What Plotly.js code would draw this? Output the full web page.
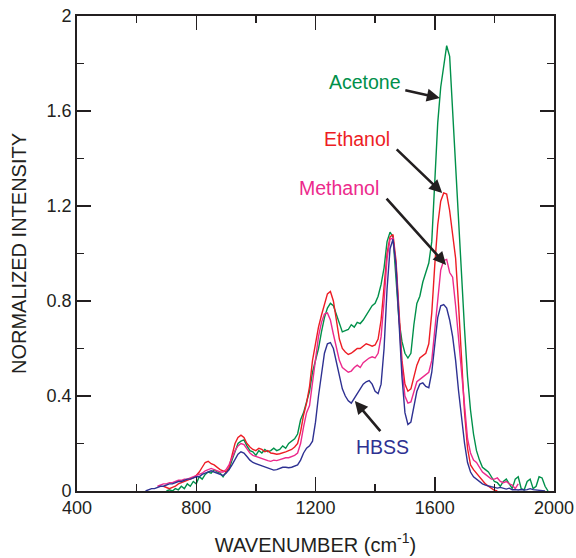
<!DOCTYPE html>
<html>
<head>
<meta charset="utf-8">
<script src="https://cdn.plot.ly/plotly-3.0.1.min.js"></script>
<style>html,body{margin:0;padding:0;background:#fff;}#chart{width:576px;height:558px;}</style>
</head>
<body>
<div id="chart"></div>
<script>
// Wavenumber grid (cm^-1)
const wavenumber = [];
for (let w = 620; w <= 1990; w += 10) wavenumber.push(w);

// HBSS (blue)
const hbss = [null,0.00,0.005,0.01,0.01,0.015,0.02,0.02,0.025,0.03,
0.03,0.035,0.04,0.04,0.045,0.05,0.05,0.055,0.06,0.06,
0.07,0.075,0.08,0.085,0.08,0.075,0.07,0.065,0.075,0.09,
0.11,0.135,0.155,0.165,0.16,0.145,0.13,0.12,0.115,0.11,
0.105,0.10,0.095,0.09,0.088,0.09,0.095,0.10,0.10,0.098,
0.10,0.105,0.11,0.13,0.16,0.18,0.19,0.21,0.29,0.40,
0.50,0.58,0.62,0.625,0.60,0.54,0.48,0.43,0.40,0.38,
0.37,0.39,0.41,0.43,0.45,0.46,0.465,0.45,0.42,0.41,
0.45,0.60,0.85,1.02,1.06,0.95,0.70,0.48,0.33,0.28,
0.29,0.35,0.42,0.45,0.455,0.44,0.435,0.50,0.62,0.73,
0.78,0.785,0.77,0.72,0.65,0.55,0.42,0.30,0.20,0.12,
0.08,0.06,0.05,0.04,0.03,0.025,0.02,0.018,0.015,0.012,
0.015,0.01,0.008,0.012,0.005,0.006,0.004,0.006,0.004,0.006,
0.01,0.006,0.004,0.004,0.003,0.0,null,null];

// Methanol (magenta)
const methanol = [null,null,null,null,null,0.02,0.025,0.03,0.03,0.035,
0.035,0.04,0.045,0.045,0.05,0.05,0.055,0.06,0.065,0.07,
0.075,0.085,0.09,0.095,0.09,0.085,0.08,0.08,0.09,0.11,
0.14,0.17,0.19,0.20,0.195,0.175,0.16,0.15,0.145,0.14,
0.135,0.13,0.128,0.125,0.13,0.128,0.132,0.135,0.14,0.14,
0.145,0.15,0.16,0.20,0.27,0.33,0.36,0.45,0.56,0.65,
0.71,0.745,0.75,0.72,0.66,0.60,0.55,0.52,0.51,0.50,
0.505,0.52,0.53,0.52,0.54,0.55,0.56,0.565,0.56,0.58,
0.65,0.80,0.98,1.06,1.065,0.95,0.72,0.52,0.40,0.37,
0.375,0.42,0.46,0.47,0.48,0.49,0.50,0.55,0.68,0.82,
0.93,0.97,0.975,0.92,0.90,0.78,0.64,0.48,0.33,0.22,
0.16,0.13,0.12,0.10,0.08,0.07,0.06,0.05,0.05,0.055,
0.04,0.035,0.04,0.03,0.025,0.01,0.03,null,null,null,
null,null,null,null,null,null,null,null];

// Ethanol (red)
const ethanol = [null,null,null,null,null,null,null,0.02,0.015,0.01,
0.015,0.02,0.03,0.035,0.04,0.045,0.05,0.055,0.065,0.08,
0.10,0.12,0.125,0.115,0.11,0.10,0.09,0.085,0.08,0.10,
0.15,0.20,0.225,0.235,0.225,0.20,0.185,0.175,0.17,0.18,
0.175,0.165,0.17,0.16,0.158,0.155,0.157,0.16,0.165,0.17,
0.175,0.185,0.20,0.25,0.32,0.37,0.44,0.55,0.63,0.69,
0.74,0.79,0.83,0.84,0.80,0.72,0.64,0.60,0.585,0.575,
0.58,0.59,0.60,0.60,0.61,0.62,0.615,0.61,0.615,0.64,
0.72,0.88,1.00,1.07,1.08,0.97,0.74,0.55,0.45,0.42,
0.43,0.48,0.53,0.56,0.57,0.58,0.62,0.75,0.95,1.12,
1.22,1.255,1.25,1.18,1.08,0.98,0.78,0.55,0.33,0.18,
0.11,0.09,0.075,0.06,0.045,0.03,0.02,0.012,0.003,0.0,
null,null,null,null,null,null,null,null,null,null,
null,null,null,null,null,null,null,null];

// Acetone (green)
const acetone = [null,null,null,null,null,null,null,null,0.0,0.005,
0.0,0.01,0.005,0.02,0.01,0.03,0.02,0.04,0.03,0.06,
0.05,0.07,0.08,0.075,0.09,0.08,0.075,0.06,0.08,0.09,
0.13,0.17,0.20,0.21,0.215,0.19,0.17,0.165,0.15,0.17,
0.16,0.175,0.165,0.17,0.18,0.17,0.175,0.19,0.18,0.20,
0.21,0.22,0.24,0.30,0.33,0.38,0.42,0.50,0.55,0.60,
0.67,0.73,0.77,0.79,0.78,0.74,0.70,0.67,0.675,0.68,
0.70,0.69,0.71,0.705,0.72,0.74,0.76,0.78,0.79,0.82,
0.87,0.94,1.05,1.09,1.07,0.90,0.72,0.63,0.58,0.56,
0.58,0.70,0.79,0.82,0.88,0.92,0.96,1.05,1.30,1.55,
1.70,1.80,1.875,1.83,1.60,1.32,1.12,0.90,0.68,0.48,
0.34,0.24,0.17,0.13,0.10,0.09,0.08,0.06,0.04,0.035,
0.02,0.04,0.05,0.03,0.01,0.05,0.06,0.01,0.005,0.04,
0.05,0.01,0.02,0.06,0.055,0.02,0.0,null];

const seriesNames = ["Acetone","Ethanol","Methanol","HBSS"];
const seriesColors = ["#00904a","#ed1c24","#ec2a8c","#2e3192"];
const seriesValues = [acetone, ethanol, methanol, hbss];

const xTickVals = [400,800,1200,1600,2000];
const yTickVals = [0,0.4,0.8,1.2,1.6,2];
const yTickText = ["0","0.4","0.8","1.2","1.6","2"];

const traces = seriesValues.map((v,i)=>({
  x: wavenumber, y: v, type:'scatter', mode:'lines', name: seriesNames[i],
  line:{color: seriesColors[i], width:1.4}, connectgaps:false, hoverinfo:'skip'
}));
const ink = "#231f20";
const fontFam = "Liberation Sans, Arial, Helvetica, sans-serif";

// label positions (data coords) and arrow heads
const labelPos = [[1366,1.722],[1339,1.482],[1279,1.276],[1426,0.185]];
const arrowHead = [[1617,1.655],[1625,1.255],[1638,0.952],[1332,0.379]];
const arrowTail = [[-36,-8],[-47,-45],[-61,-68],[27,32]];

const annotations = [];
seriesNames.forEach((n,i)=>{
  annotations.push({x:labelPos[i][0], y:labelPos[i][1], xref:'x', yref:'y', text:n, showarrow:false,
    font:{family:fontFam, size:19.5, color:seriesColors[i]}});
  annotations.push({x:arrowHead[i][0], y:arrowHead[i][1], xref:'x', yref:'y', text:' ', showarrow:true,
    ax:arrowTail[i][0], ay:arrowTail[i][1], arrowhead:2, arrowsize:1, arrowwidth:2.6, arrowcolor:ink,
    font:{size:1}});
});

const layout = {
  width:576, height:558,
  margin:{l:77, r:22, t:16, b:67},
  paper_bgcolor:'#fff', plot_bgcolor:'#fff',
  showlegend:false,
  font:{family:fontFam, size:18, color:ink},
  xaxis:{
    range:[400,2000], tickvals:xTickVals, ticks:'inside', ticklen:14, tickwidth:1.5, tickcolor:ink,
    showline:true, linecolor:ink, linewidth:1.8, mirror:'allticks', showgrid:false, zeroline:false,
    minor:{dtick:200, tick0:400, ticks:'inside', ticklen:7, tickwidth:1.5, tickcolor:ink, showgrid:false},
    tickfont:{family:fontFam, size:18, color:ink},
    title:{text:'WAVENUMBER (cm<sup>-1</sup>)', font:{family:fontFam, size:20, color:ink}, standoff:20}
  },
  yaxis:{
    range:[0,2], tickvals:yTickVals, ticktext:yTickText, ticks:'inside', ticklen:14, tickwidth:1.5, tickcolor:ink,
    showline:true, linecolor:ink, linewidth:1.8, mirror:'allticks', showgrid:false, zeroline:false,
    minor:{dtick:0.2, tick0:0, ticks:'inside', ticklen:7, tickwidth:1.5, tickcolor:ink, showgrid:false},
    tickfont:{family:fontFam, size:18, color:ink},
    title:{text:'NORMALIZED INTENSITY', font:{family:fontFam, size:20, color:ink}, standoff:14}
  },
  annotations: annotations
};

Plotly.newPlot('chart', traces, layout, {staticPlot:true, displayModeBar:false});
</script>
</body>
</html>
